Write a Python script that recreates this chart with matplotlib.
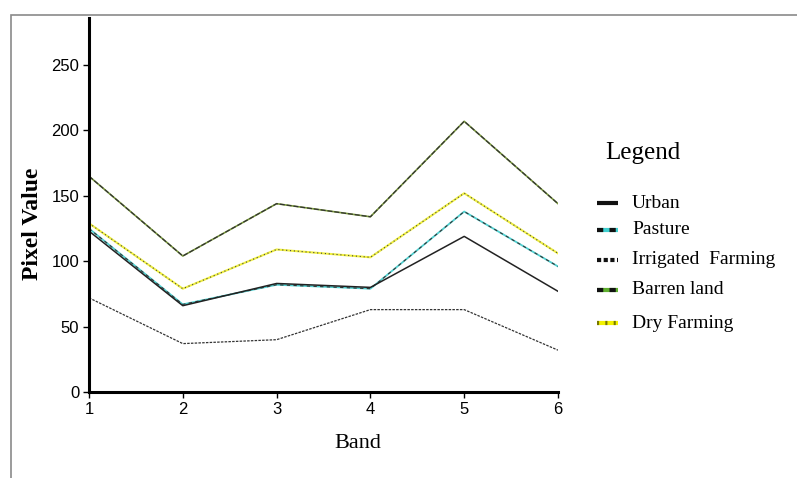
import matplotlib.pyplot as plt
from matplotlib.patches import Rectangle
from matplotlib.lines import Line2D

bands = [1, 2, 3, 4, 5, 6]
urban = [123, 66, 83, 80, 119, 77]
pasture = [125, 67, 82, 79, 138, 96]
irrigated = [72, 37, 40, 63, 63, 32]
barren = [165, 104, 144, 134, 207, 144]
dry = [129, 79, 109, 103, 152, 106]
yticks = [0, 50, 100, 150, 200, 250]

sans = ['Liberation Sans', 'DejaVu Sans']
serif = ['Liberation Serif', 'DejaVu Serif']

fig = plt.figure(figsize=(7.97, 4.78), dpi=100)
fig.patch.set_facecolor('white')
fig.patches.append(Rectangle((11 / 797, -0.05), 1.1, 1 - 15 / 478 + 0.05,
                             transform=fig.transFigure, fill=False,
                             edgecolor='#8a8a8a', linewidth=1.2))

ax = fig.add_axes([89 / 797, 1 - 392 / 478, 469 / 797, 374 / 478])

# barren land: green under dark dashes
ax.plot(bands, barren, color='#7a9a3a', lw=1.2)
ax.plot(bands, barren, color='#333333', lw=0.9, dashes=(4, 1.5))
# dry farming: yellow under black dots
ax.plot(bands, dry, color='#f0f040', lw=1.5)
ax.plot(bands, dry, color='#444444', lw=0.8, dashes=(1, 2.5))
# pasture: cyan with dark dashes
ax.plot(bands, pasture, color='#50d0d0', lw=1.3)
ax.plot(bands, pasture, color='#333333', lw=0.8, dashes=(3, 3))
# urban
ax.plot(bands, urban, color='#222222', lw=1.1)
# irrigated farming
ax.plot(bands, irrigated, color='#333333', lw=0.9, dashes=(2, 1))

ax.set_xlim(1, 6)
ax.set_ylim(0, 286)
ax.set_xticks(bands)
ax.set_yticks(yticks)
for s in ['top', 'right']:
    ax.spines[s].set_visible(False)
for s in ['left', 'bottom']:
    ax.spines[s].set_linewidth(2.2)
ax.tick_params(direction='out', length=4, width=1, labelsize=12, pad=3)
for lab in ax.get_xticklabels() + ax.get_yticklabels():
    lab.set_family(sans)
ax.set_facecolor('none')

fig.text(33 / 797, 1 - 224 / 478, 'Pixel Value', rotation=90, ha='center', va='center',
         fontsize=17, fontweight='bold', family=serif)
fig.text(358 / 797, 1 - 444 / 478, 'Band', ha='center', va='center',
         fontsize=16, family=serif)

# legend drawn in figure coords
fig.text(643 / 797, 1 - 153 / 478, 'Legend', ha='center', va='center',
         fontsize=18, family=serif)
names = ['Urban', 'Pasture', 'Irrigated  Farming', 'Barren land', 'Dry Farming']
ys = [203, 230, 260, 290, 323]
styles = [
    [('#111111', 3, None)],
    [('#40d0d0', 3, None), ('#111111', 3, (1.5, 1.5))],
    [('#111111', 3, (1, 0.6))],
    [('#5fb030', 3, None), ('#111111', 3, (1.5, 1.5))],
    [('#f2f200', 3, None), ('#777700', 3, (0.5, 1.5))],
]
for name, y, st in zip(names, ys, styles):
    yf = 1 - y / 478
    for col, lw, dsh in st:
        ln = Line2D([597 / 797, 618 / 797], [yf, yf], transform=fig.transFigure,
                    color=col, lw=lw, solid_capstyle='butt')
        if dsh is not None:
            ln.set_dashes(dsh)
        fig.lines.append(ln)
    fig.text(632 / 797, yf, name, ha='left', va='center', fontsize=14, family=serif)

fig.savefig('out.png', dpi=100)
